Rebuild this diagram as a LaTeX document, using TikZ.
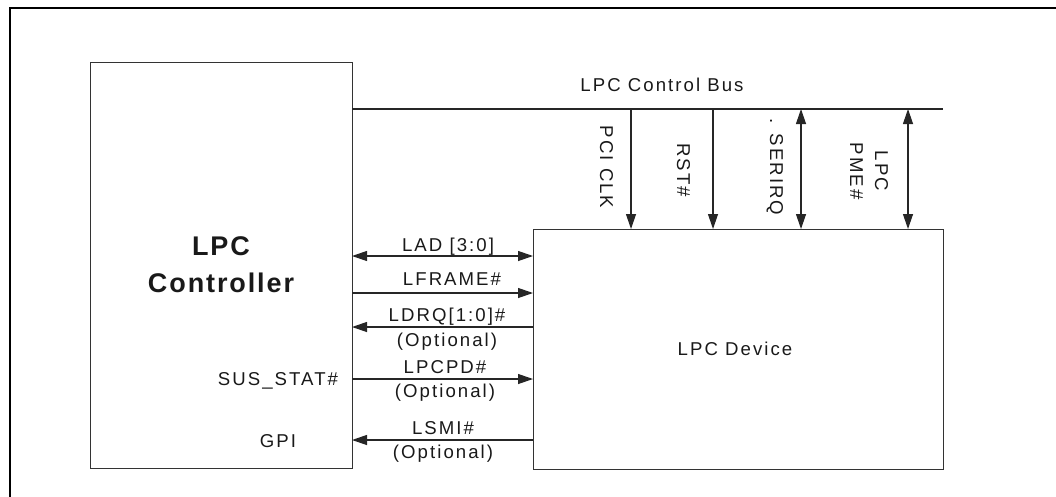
\documentclass[tikz,border=0pt]{standalone}
\usepackage{fontspec}
\setmainfont{Liberation Sans}[LetterSpace=11, BoldFeatures={LetterSpace=7}]
\usetikzlibrary{arrows.meta}
\begin{document}
\begin{tikzpicture}[x=1pt,y=-1pt,
  every node/.style={font=\fontsize{18.6}{21}\selectfont, inner sep=0pt, text=black!90},
  box/.style={draw=black!80, line width=1.4pt},
  wire/.style={draw=black!85, line width=1.2pt},
  tipend/.style={-{Triangle[length=15pt,width=10pt]}},
  tipstart/.style={{Triangle[length=15pt,width=10pt]}-},
  tipboth/.style={{Triangle[length=15pt,width=10pt]}-{Triangle[length=15pt,width=10pt]}},
  lbl/.style={anchor=base},
  vlbl/.style={anchor=base, rotate=-90},
  big/.style={anchor=base, font=\fontsize{27}{30}\selectfont\bfseries}
]
\useasboundingbox (0,0) rectangle (1056,496);
% outer frame (left and top edges only)
\coordinate (fbl) at (10,497);
\coordinate (ftl) at (10,8);
\coordinate (ftr) at (1057,8);
\draw[black, line width=2pt] (fbl) -- (ftl) -- (ftr);

% boxes
\node[box, anchor=north west, minimum width=262pt, minimum height=406pt] (ctrl) at (90,62) {};
\node[box, anchor=north west, minimum width=410pt, minimum height=240pt] (dev) at (533,229) {};

% controller labels
\node[big] (t1) at (221,255) {LPC};
\node[big] (t2) at (221,292) {Controller};
\node[lbl] (sus) at (278,385) {SUS\_STAT\#};
\node[lbl] (gpi) at (278,447) {GPI};
\node[lbl] (devl) at (735,355) {LPC Device};

% control bus
\coordinate (bus0) at (352,109);
\coordinate (bus1) at (943,109);
\draw[wire] (bus0) -- (bus1);
\node[lbl] (busl) at (662,91) {LPC Control Bus};

\coordinate (v1) at (631,109);
\coordinate (v2) at (713,109);
\coordinate (v3) at (801,109);
\coordinate (v4) at (908,109);
\draw[wire, tipend] (v1) -- (v1 |- dev.north);
\draw[wire, tipend] (v2) -- (v2 |- dev.north);
\draw[wire, tipboth] (v3) -- (v3 |- dev.north);
\draw[wire, tipboth] (v4) -- (v4 |- dev.north);
\node[vlbl] (l1) at (600,167) {PCI CLK};
\node[vlbl] (l2) at (677,170) {RST\#};
\node[vlbl] (l3) at (770,167) {. SERIRQ};
\node[vlbl] (l4a) at (875,171) {LPC};
\node[vlbl] (l4b) at (850,171) {PME\#};

% side bus signals
\coordinate (h1) at (352,256);
\coordinate (h2) at (352,293);
\coordinate (h3) at (352,327);
\coordinate (h4) at (352,379);
\coordinate (h5) at (352,440);
\draw[wire, tipboth] (h1) -- (h1 -| dev.west);
\draw[wire, tipend] (h2) -- (h2 -| dev.west);
\draw[wire, tipstart] (h3) -- (h3 -| dev.west);
\draw[wire, tipend] (h4) -- (h4 -| dev.west);
\draw[wire, tipstart] (h5) -- (h5 -| dev.west);

\node[lbl] (s1) at (448,251) {LAD [3:0]};
\node[lbl] (s2) at (452,285.5) {LFRAME\#};
\node[lbl] (s3) at (447,321.5) {LDRQ[1:0]\#};
\node[lbl] (s3o) at (447,346) {(Optional)};
\node[lbl] (s4) at (445,373.5) {LPCPD\#};
\node[lbl] (s4o) at (445,397) {(Optional)};
\node[lbl] (s5) at (443,434) {LSMI\#};
\node[lbl] (s5o) at (443,458) {(Optional)};
\end{tikzpicture}
\end{document}
